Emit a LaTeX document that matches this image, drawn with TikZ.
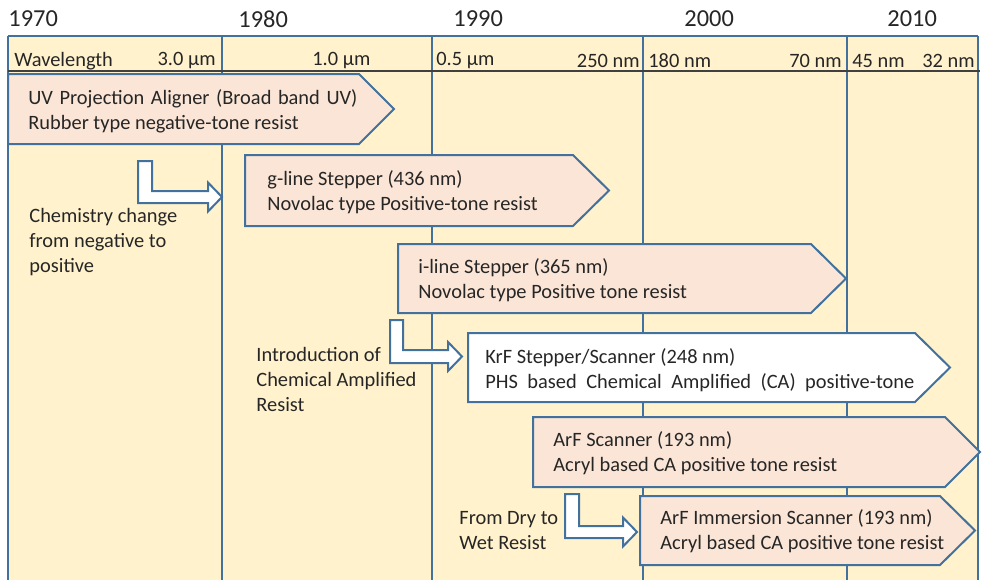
\documentclass[tikz,border=0pt]{standalone}
\usepackage{fontspec}
\setmainfont{Carlito}
\usetikzlibrary{calc}
\definecolor{bandfill}{HTML}{FFF2CC}
\definecolor{stagefill}{HTML}{FBE5D6}
\definecolor{gridblue}{HTML}{41719C}
\definecolor{inktext}{HTML}{262626}
\def\stagebox[#1](#2,#3)(#4,#5,#6){\draw[stage,fill=#1] (#2,#3) -- (#4,#3) -- (#5,{(#3+#6)/2}) -- (#4,#6) -- (#2,#6) -- cycle;}
\def\bentarrow(#1,#2,#3)(#4,#5)(#6,#7){\draw[stage,fill=white] (#1,#3) -- (#2,#3) -- (#2,#4) -- (#6,#4) -- (#6,{(#4+#5)/2-14.5}) -- (#7,{(#4+#5)/2}) -- (#6,{(#4+#5)/2+14.5}) -- (#6,#5) -- (#1,#5) -- cycle;}

\begin{document}
\begin{tikzpicture}[x=0.5pt,y=-0.5pt,
		grid/.style={gridblue,line width=1.4pt},
		stage/.style={gridblue,line width=1pt,line join=miter},
		lbl/.style={text=inktext,font=\fontsize{10.2}{12.5}\selectfont,inner sep=0pt,align=left,anchor=west},
		yearlbl/.style={text=inktext,font=\fontsize{12.2}{14}\selectfont,inner sep=0pt,anchor=west}]
				\useasboundingbox (0,0) rectangle (982,580);
				
				\fill[bandfill] (8,36) rectangle (978,580);
				\foreach \x in {8,222,432,643,847,978}
					\draw[grid] (\x,36) -- (\x,580);
				\draw[grid] (8,36) -- (978,36);
				\draw[black!75,line width=0.7pt] (8,71) -- (980,71);
				
				\node[yearlbl] (y1970) at (8,19) {1970};
				\node[yearlbl] (y1980) at (238,19) {1980};
				\node[yearlbl] (y1990) at (453,19) {1990};
				\node[yearlbl] (y2000) at (684,19) {2000};
				\node[yearlbl] (y2010) at (887,19) {2010};
				
				\node[lbl] (wavelength) at (14,61) {Wavelength};
				\node[lbl,anchor=east] (w3um) at (216,61) {3.0 µm};
				\node[lbl] (w1um) at (312,61) {1.0 µm};
				\node[lbl] (w05um) at (436,61) {0.5 µm};
				\node[lbl,anchor=east] (w250) at (640,61) {250 nm};
				\node[lbl] (w180) at (648,61) {180 nm};
				\node[lbl,anchor=east] (w70) at (842,61) {70 nm};
				\node[lbl] (w45) at (852,61) {45 nm};
				\node[lbl,anchor=east] (w32) at (975,61) {32 nm};
				
				\stagebox[stagefill](8,74)(359,394,144)
				\stagebox[stagefill](245,155)(573,609,226)
				\stagebox[stagefill](398,244)(811,846,313)
				\stagebox[white](468,333)(915,950,402)
				\stagebox[stagefill](533,417)(945,980,487)
				\stagebox[stagefill](640,496)(940,975,565)
				
				\bentarrow(138,152,161)(191,203)(208,222)
				\bentarrow(390,403,320)(350,363)(448,462)
				\bentarrow(565,579,494)(526,538)(623,637)
				
				\node[lbl] (uv) at (28,111) {\makebox[164.5pt][s]{UV Projection Aligner (Broad band UV)}\\Rubber type negative-tone resist};
				\node[lbl] (gline) at (267,192) {g-line Stepper (436 nm)\\Novolac type Positive-tone resist};
				\node[lbl] (iline) at (418,280) {i-line Stepper (365 nm)\\Novolac type Positive tone resist};
				\node[lbl] (krf) at (485,370.5) {KrF Stepper/Scanner (248 nm)\\\makebox[214.5pt][s]{PHS based Chemical Amplified (CA) positive-tone}};
				\node[lbl] (arf) at (553,453.5) {ArF Scanner (193 nm)\\Acryl based CA positive tone resist};
				\node[lbl] (arfimm) at (660,531.5) {ArF Immersion Scanner (193 nm)\\Acryl based CA positive tone resist};
				
				\node[lbl] (chem) at (29,242.5) {Chemistry change\\from negative to\\positive};
				\node[lbl] (camp) at (256,379) {Introduction of\\Chemical Amplified\\Resist};
				\node[lbl] (drywet) at (459,530.5) {From Dry to\\Wet Resist};
\end{tikzpicture}
\end{document}
